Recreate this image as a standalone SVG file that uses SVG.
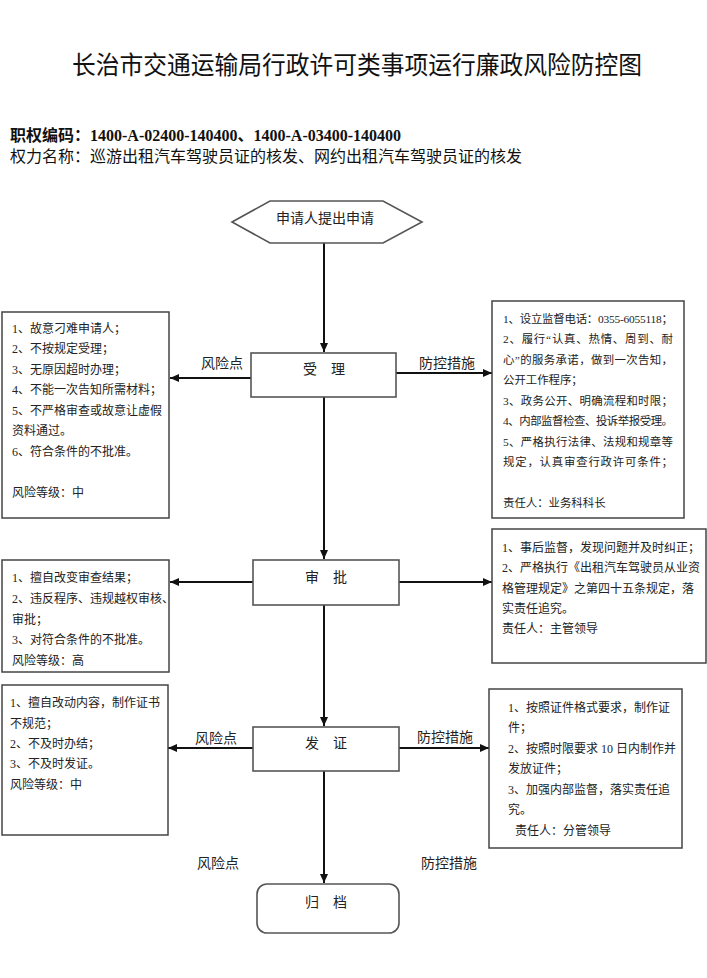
<svg xmlns="http://www.w3.org/2000/svg" width="707" height="978" viewBox="0 0 707 978">
<style>
.title{font-family:'Noto Sans CJK SC',sans-serif;font-size:25px;fill:#111}
.hd{font-family:'Liberation Serif','Noto Sans CJK SC',serif;font-size:16px;fill:#111}
.b{font-weight:bold}
.lbl{font-family:'Noto Sans CJK SC',sans-serif;font-size:14px;fill:#222}
.body{font-family:'Liberation Serif','Noto Sans CJK SC',serif;font-size:12px;fill:#222}
.body2{font-family:'Liberation Serif','Noto Sans CJK SC',serif;font-size:11.4px;fill:#222}
.box{fill:#fff;stroke:#444;stroke-width:1.5}
.node{fill:#fff;stroke:#555;stroke-width:1.6}
.ln{fill:none;stroke:#111;stroke-width:2}
</style>
<defs>
<marker id="ah" markerUnits="userSpaceOnUse" markerWidth="10" markerHeight="10" refX="9" refY="5" orient="auto">
<path d="M0,1 L9,5 L0,9 Z" fill="#111"/>
</marker>
</defs>
<rect width="707" height="978" fill="#fff"/>
<text class="title" x="72" y="74" textLength="570" lengthAdjust="spacingAndGlyphs">长治市交通运输局行政许可类事项运行廉政风险防控图</text>
<text class="hd b" x="10" y="141">职权编码：1400-A-02400-140400、1400-A-03400-140400</text>
<text class="hd" x="10" y="162">权力名称：巡游出租汽车驾驶员证的核发、网约出租汽车驾驶员证的核发</text>

<g id="connectors">
<line class="ln" x1="324" y1="243" x2="324" y2="352" marker-end="url(#ah)"/>
<line class="ln" x1="324" y1="397" x2="324" y2="559" marker-end="url(#ah)"/>
<line class="ln" x1="324" y1="605" x2="324" y2="726" marker-end="url(#ah)"/>
<line class="ln" x1="324" y1="771" x2="324" y2="883" marker-end="url(#ah)"/>
<line class="ln" x1="251" y1="378" x2="170" y2="378" marker-end="url(#ah)"/>
<line class="ln" x1="396" y1="373" x2="492" y2="373" marker-end="url(#ah)"/>
<line class="ln" x1="253" y1="582" x2="170" y2="582" marker-end="url(#ah)"/>
<line class="ln" x1="399" y1="582" x2="492" y2="582" marker-end="url(#ah)"/>
<line class="ln" x1="253" y1="748" x2="168" y2="748" marker-end="url(#ah)"/>
<line class="ln" x1="399" y1="748" x2="489" y2="748" marker-end="url(#ah)"/>
<text class="lbl" x="222" y="368" text-anchor="middle">风险点</text>
<text class="lbl" x="447" y="368" text-anchor="middle">防控措施</text>
<text class="lbl" x="216" y="743" text-anchor="middle">风险点</text>
<text class="lbl" x="445" y="742" text-anchor="middle">防控措施</text>
<text class="lbl" x="218" y="868" text-anchor="middle">风险点</text>
<text class="lbl" x="449" y="868" text-anchor="middle">防控措施</text>
</g>

<g id="start">
<polygon class="node" points="232,222 270,201 383,201 422,222 383,243 270,243"/>
<text class="lbl" x="325" y="223" text-anchor="middle">申请人提出申请</text>
</g>

<g id="accept">
<rect class="node" x="251" y="353" width="145" height="44"/>
<text class="lbl" x="324" y="374" text-anchor="middle">受　理</text>
</g>

<g id="approve">
<rect class="node" x="253" y="560" width="146" height="45"/>
<text class="lbl" x="326" y="582" text-anchor="middle">审　批</text>
</g>

<g id="issue">
<rect class="node" x="253" y="727" width="146" height="44"/>
<text class="lbl" x="326" y="748" text-anchor="middle">发　证</text>
</g>

<g id="archive">
<rect class="node" x="257" y="884" width="142" height="49" rx="10" ry="10"/>
<text class="lbl" x="326" y="907" text-anchor="middle">归　档</text>
</g>

<g id="risk1">
<rect class="box" x="2" y="312" width="167" height="206"/>
<text class="body" x="12" y="332.5">1、故意刁难申请人；</text>
<text class="body" x="12" y="353">2、不按规定受理；</text>
<text class="body" x="12" y="373.5">3、无原因超时办理；</text>
<text class="body" x="12" y="394">4、不能一次告知所需材料；</text>
<text class="body" x="12" y="414.5">5、不严格审查或故意让虚假</text>
<text class="body" x="12" y="435">资料通过。</text>
<text class="body" x="12" y="455.5">6、符合条件的不批准。</text>
<text class="body" x="12" y="497">风险等级：中</text>
</g>

<g id="control1">
<rect class="box" x="492" y="301" width="192" height="217"/>
<text class="body2" x="503" y="322.5" textLength="170">1、设立监督电话：0355-6055118；</text>
<text class="body2" x="503" y="343" textLength="170">2、履行“认真、热情、周到、耐</text>
<text class="body2" x="503" y="363.5" textLength="170">心”的服务承诺，做到一次告知，</text>
<text class="body2" x="503" y="384">公开工作程序；</text>
<text class="body2" x="503" y="404.5" textLength="170">3、政务公开、明确流程和时限；</text>
<text class="body2" x="503" y="425" textLength="170">4、内部监督检查、投诉举报受理。</text>
<text class="body2" x="503" y="445.5" textLength="170">5、严格执行法律、法规和规章等</text>
<text class="body2" x="503" y="466" textLength="170">规定，认真审查行政许可条件；</text>
<text class="body2" x="503" y="507">责任人：业务科科长</text>
</g>

<g id="risk2">
<rect class="box" x="2" y="560" width="167" height="112"/>
<text class="body" x="12" y="581.5">1、擅自改变审查结果；</text>
<text class="body" x="12" y="603">2、违反程序、违规越权审核、</text>
<text class="body" x="12" y="623.5">审批；</text>
<text class="body" x="12" y="644">3、对符合条件的不批准。</text>
<text class="body" x="12" y="664.5">风险等级：高</text>
</g>

<g id="control2">
<rect class="box" x="492" y="529" width="214" height="134"/>
<text class="body" x="502" y="551.5">1、事后监督，发现问题并及时纠正；</text>
<text class="body" x="502" y="572">2、严格执行《出租汽车驾驶员从业资</text>
<text class="body" x="502" y="592.5">格管理规定》之第四十五条规定，落</text>
<text class="body" x="502" y="613">实责任追究。</text>
<text class="body" x="502" y="633">责任人：主管领导</text>
</g>

<g id="risk3">
<rect class="box" x="2" y="685" width="166" height="150"/>
<text class="body" x="10" y="706.5">1、擅自改动内容，制作证书</text>
<text class="body" x="10" y="727.5">不规范；</text>
<text class="body" x="10" y="747.5">2、不及时办结；</text>
<text class="body" x="10" y="767.5">3、不及时发证。</text>
<text class="body" x="10" y="788.5">风险等级：中</text>
</g>

<g id="control3">
<rect class="box" x="489" y="689" width="193" height="159"/>
<text class="body" x="508" y="711.5">1、按照证件格式要求，制作证</text>
<text class="body" x="508" y="731.5">件；</text>
<text class="body" x="508" y="752.5">2、按照时限要求 10 日内制作并</text>
<text class="body" x="508" y="772.5">发放证件；</text>
<text class="body" x="508" y="793.5">3、加强内部监督，落实责任追</text>
<text class="body" x="508" y="813.5">究。</text>
<text class="body" x="515" y="834.5">责任人：分管领导</text>
</g>
</svg>
